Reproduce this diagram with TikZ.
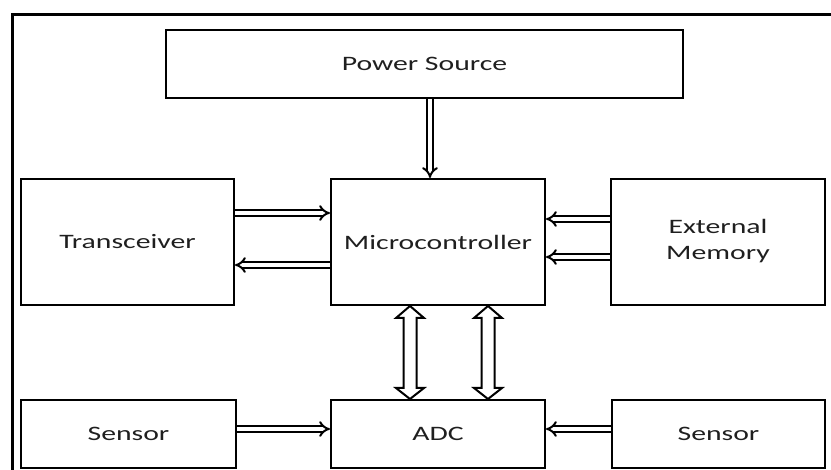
\documentclass[tikz,border=0pt]{standalone}
\usepackage{fontspec}
\setmainfont{Carlito}
\usetikzlibrary{arrows.meta,calc}
\newcommand\stretchtxt[1]{\scalebox{1.45}[1]{#1}}
\begin{document}
\begin{tikzpicture}[x=1pt,y=-1pt,
  box/.style={draw, line width=2pt, inner sep=0pt, font=\fontsize{20.5}{24}\selectfont, text=black!88},
  dbl/.style={double, double distance=3.2pt, line width=2pt, -{Implies[scale=1.1]}},
  blk/.style={draw, line width=2pt, fill=white, line join=miter},
]
\useasboundingbox (0,0) rectangle (831,470);
\draw[line width=3pt] (12,470) -- (12,15) -- (831,15);

\node[box, minimum width=517, minimum height=68] (power) at (424.5,64) {\stretchtxt{Power Source}};
\node[box, minimum width=213, minimum height=126] (trans) at (127.5,242) {\stretchtxt{Transceiver}};
\node[box, minimum width=214, minimum height=126] (mc) at (438,242) {\stretchtxt{Microcontroller}};
\node[box, minimum width=214, minimum height=126] (ext) at (718,242) {\stretchtxt{\begin{tabular}{@{}c@{}}External\\[2pt]Memory\end{tabular}}};
\node[box, minimum width=215, minimum height=68] (s1) at (128.5,434) {\stretchtxt{Sensor}};
\node[box, minimum width=214, minimum height=68] (adc) at (438,434) {\stretchtxt{ADC}};
\node[box, minimum width=213, minimum height=68] (s2) at (718.5,434) {\stretchtxt{Sensor}};

\coordinate (xp) at (430,0);
\draw[dbl] (xp |- power.south) -- (xp |- mc.north);

\coordinate (ya) at (0,213);
\coordinate (yb) at (0,265);
\draw[dbl] (trans.east |- ya) -- (mc.west |- ya);
\draw[dbl] (mc.west |- yb) -- (trans.east |- yb);

\coordinate (yc) at (0,219);
\coordinate (yd) at (0,257);
\draw[dbl] (ext.west |- yc) -- (mc.east |- yc);
\draw[dbl] (ext.west |- yd) -- (mc.east |- yd);

\coordinate (ye) at (0,429);
\draw[dbl] (s1.east |- ye) -- (adc.west |- ye);
\draw[dbl] (s2.west |- ye) -- (adc.east |- ye);

\coordinate (xb1) at (410,0);
\coordinate (xb2) at (488,0);
\path (xb1 |- mc.south) coordinate (t1) (xb1 |- adc.north) coordinate (b1);
\path (xb2 |- mc.south) coordinate (t2) (xb2 |- adc.north) coordinate (b2);
\draw[blk] (t1) -- ($(t1)+(14,12)$) -- ($(t1)+(6.5,12)$) -- ($(b1)+(6.5,-11)$) -- ($(b1)+(14,-11)$) -- (b1) -- ($(b1)+(-14,-11)$) -- ($(b1)+(-6.5,-11)$) -- ($(t1)+(-6.5,12)$) -- ($(t1)+(-14,12)$) -- cycle;
\draw[blk] (t2) -- ($(t2)+(14,12)$) -- ($(t2)+(6.5,12)$) -- ($(b2)+(6.5,-11)$) -- ($(b2)+(14,-11)$) -- (b2) -- ($(b2)+(-14,-11)$) -- ($(b2)+(-6.5,-11)$) -- ($(t2)+(-6.5,12)$) -- ($(t2)+(-14,12)$) -- cycle;
\end{tikzpicture}
\end{document}
